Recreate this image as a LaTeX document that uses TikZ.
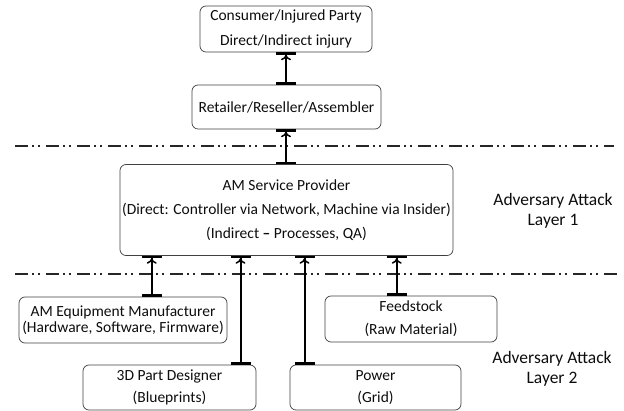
\documentclass[tikz,border=0pt]{standalone}
\usepackage{fontspec}
\setmainfont{Carlito}
\usetikzlibrary{arrows.meta}
\begin{document}
\begin{tikzpicture}[x=1pt,y=-1pt,
  box/.style={draw=black!75,line width=0.7pt,rounded corners=6pt,
    align=center,inner sep=0pt,text=black!95},
  conn/.style={line width=2pt,black,
    {Bar[width=20pt,line width=2.4pt]}-{To[length=5.5pt,width=10pt,line width=1.5pt,sep=0pt] Bar[width=20pt,line width=2.4pt]}},
  layerline/.style={line width=2pt,black!85,
    dash pattern=on 13pt off 4pt on 2pt off 4pt on 2pt off 6pt},
  layertext/.style={align=center,font={\fontsize{17.5}{20}\selectfont},text=black!95}]
\useasboundingbox (0,0) rectangle (624,411);

% layer separators
\coordinate (l1w) at (15,146);
\coordinate (l1e) at (614,146);
\coordinate (l2w) at (15,274);
\coordinate (l2e) at (617,274);
\draw[layerline] (l1w) -- (l1e);
\draw[layerline] (l2w) -- (l2e);

% boxes
\node[box,minimum width=172pt,minimum height=46pt,
  font={\fontsize{15.5}{25}\selectfont}] (consumer) at (286,29)
  {Consumer/Injured Party\\Direct/Indirect injury};
\node[box,minimum width=189pt,minimum height=44pt,
  font={\fontsize{15.5}{25}\selectfont}] (retailer) at (286.5,107)
  {Retailer/Reseller/Assembler};
\node[box,minimum width=333pt,minimum height=91pt,
  font={\fontsize{15.5}{24}\selectfont}] (sp) at (286.5,210)
  {AM Service Provider\\(Direct: Controller via Network, Machine via Insider)\\(Indirect \textbf{--} Processes, QA)};
\node[box,minimum width=208pt,minimum height=46pt,
  font={\fontsize{15.5}{16}\selectfont}] (eqp) at (123,320)
  {AM Equipment Manufacturer\\(Hardware, Software, Firmware)};
\node[box,minimum width=172pt,minimum height=46pt,
  font={\fontsize{15.5}{23}\selectfont}] (feed) at (411,319)
  {Feedstock\\(Raw Material)};
\node[box,minimum width=173pt,minimum height=45pt,
  font={\fontsize{15.5}{22}\selectfont}] (des) at (169.5,387.5)
  {3D Part Designer\\(Blueprints)};
\node[box,minimum width=171pt,minimum height=45pt,
  font={\fontsize{15.5}{22}\selectfont}] (pow) at (375.5,387.5)
  {Power\\(Grid)};

% layer labels
\node[layertext] (layer1) at (553,211) {Adversary Attack\\Layer 1};
\node[layertext] (layer2) at (552,369) {Adversary Attack\\Layer 2};

% connector columns
\coordinate (xa) at (286,0);
\coordinate (xe) at (151.7,0);
\coordinate (xd) at (240.5,0);
\coordinate (xp) at (304.5,0);
\coordinate (xf) at (396.7,0);

\draw[conn] (xa |- retailer.north) -- (xa |- consumer.south);
\draw[conn] (xa |- sp.north) -- (xa |- retailer.south);
\draw[conn] (xe |- eqp.north) -- (xe |- sp.south);
\draw[conn] (xd |- des.north) -- (xd |- sp.south);
\draw[conn] (xp |- pow.north) -- (xp |- sp.south);
\draw[conn] (xf |- feed.north) -- (xf |- sp.south);
\end{tikzpicture}
\end{document}
